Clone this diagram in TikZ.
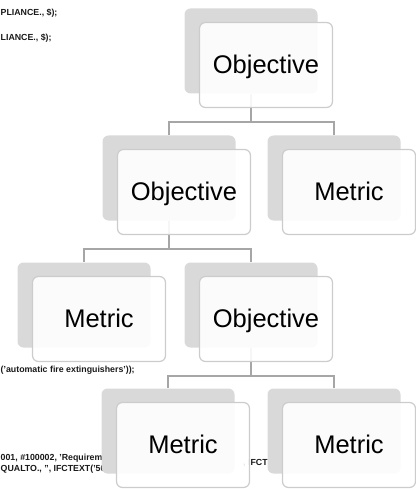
\documentclass[tikz,border=0pt]{standalone}
\usepackage{fontspec}
\setmainfont{Liberation Sans}
\usetikzlibrary{positioning,backgrounds,calc}
\definecolor{smaback}{RGB}{217,217,217}
\definecolor{smaedge}{RGB}{204,204,204}
\definecolor{smaline}{RGB}{166,166,166}
\definecolor{smacode}{RGB}{25,25,25}

\begin{document}
\begin{tikzpicture}[
    x=1pt, y=-1pt,
    cardback/.style={rectangle, fill=smaback, minimum width=133pt, minimum height=85pt,
                     rounded corners=6pt, inner sep=0pt},
    card/.style={rectangle, draw=smaedge, line width=1.2pt, fill=white, fill opacity=0.9,
                 text opacity=1, minimum width=133pt, minimum height=85pt, rounded corners=6pt,
                 font=\fontsize{25.5}{30}\selectfont, text height=19pt, text depth=2pt},
    link/.style={draw=smaline, line width=1.5pt},
    code/.style={anchor=west, inner sep=0pt, font=\fontsize{8.8}{10}\selectfont\bfseries,
                 text=smacode}
]
\useasboundingbox (0,0) rectangle (415,489);

% level 0
\node[cardback] (obj0) at (251,51) {};
\node[card] (obj0c) at ([shift={(15,14)}]obj0.center) {Objective};
% level 1
\node[cardback] (obj1) at (169,178) {};
\node[card] (obj1c) at ([shift={(15,14)}]obj1.center) {Objective};
\node[cardback] (met1) at (334,178) {};
\node[card] (met1c) at ([shift={(15,14)}]met1.center) {Metric};
% level 2
\node[cardback] (met2) at (84,305) {};
\node[card] (met2c) at ([shift={(15,14)}]met2.center) {Metric};
\node[cardback] (obj2) at (251,305) {};
\node[card] (obj2c) at ([shift={(15,14)}]obj2.center) {Objective};
% level 3
\node[cardback] (met3) at (168,431) {};
\node[card] (met3c) at ([shift={(15,14)}]met3.center) {Metric};
\node[cardback] (met4) at (334,431) {};
\node[card] (met4c) at ([shift={(15,14)}]met4.center) {Metric};

\begin{scope}[on background layer]
% code behind the chart
\node[code] (c1) at (0.5,13) {PLIANCE., \$);};
\node[code] (c2) at (0.5,38) {LIANCE., \$);};
\node[code] (c3) at (0.5,370) {('automatic fire extinguishers'));};
\node[code] (c4) at (0.5,458) {001, \#100002, 'Requirem};
\node[code] (c5) at (243,463) {, IFCTE};
\node[code] (c6) at (0.5,469) {QUALTO., '', IFCTEXT('50 : n'));};

\draw[link] (obj0.south) -- ++(0,28.5) -| (obj1.north);
\draw[link] (obj0.south) -- ++(0,28.5) -| (met1.north);
\draw[link] (obj1.south) -- ++(0,28.5) -| (met2.north);
\draw[link] (obj1.south) -- ++(0,28.5) -| (obj2.north);
\draw[link] (obj2.south) -- ++(0,28.5) -| (met3.north);
\draw[link] (obj2.south) -- ++(0,28.5) -| (met4.north);
\end{scope}
\end{tikzpicture}
\end{document}
